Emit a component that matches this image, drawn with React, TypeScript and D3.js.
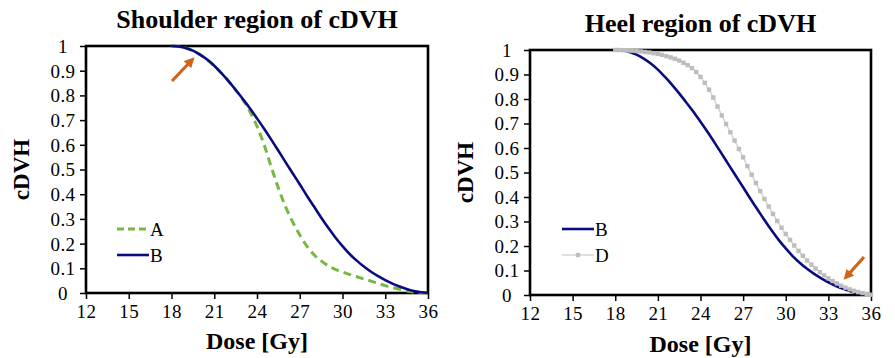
import React, { useRef, useEffect } from "react";
import * as d3 from "d3";

// dose ticks and cDVH ticks
const doseTicks = [12, 15, 18, 21, 24, 27, 30, 33, 36];
const cdvhTicks = [0, 0.1, 0.2, 0.3, 0.4, 0.5, 0.6, 0.7, 0.8, 0.9, 1];

// plan A (green dashed) - [dose Gy, cDVH]
const planA: [number, number][] = [
  [18, 1], [19, 0.992], [20, 0.965], [21, 0.92], [22, 0.858], [22.5, 0.822],
  [23, 0.783], [23.5, 0.735], [24, 0.675], [24.5, 0.6], [25, 0.51], [25.5, 0.425],
  [26, 0.35], [26.5, 0.288], [27, 0.235], [27.5, 0.19], [28, 0.155], [28.5, 0.13],
  [29, 0.11], [29.5, 0.096], [30, 0.085], [31, 0.066], [32, 0.048], [33, 0.03],
  [34, 0.015], [35, 0.004], [36, 0],
];

// plan B (navy solid)
const planB: [number, number][] = [
  [18, 1], [18.5, 0.998], [19, 0.992], [19.5, 0.981], [20, 0.965], [20.5, 0.945],
  [21, 0.92], [21.5, 0.89], [22, 0.858], [22.5, 0.823], [23, 0.786], [23.5, 0.748],
  [24, 0.707], [24.5, 0.665], [25, 0.621], [25.5, 0.576], [26, 0.53], [26.5, 0.485],
  [27, 0.44], [27.5, 0.394], [28, 0.35], [28.5, 0.306], [29, 0.264], [29.5, 0.225],
  [30, 0.19], [30.5, 0.158], [31, 0.131], [31.5, 0.107], [32, 0.086], [32.5, 0.068],
  [33, 0.052], [33.5, 0.038], [34, 0.026], [34.5, 0.016], [35, 0.008], [35.5, 0.003],
  [36, 0],
];

// plan D (gray with square markers)
const planD: [number, number][] = [
  [18.0, 1.0], [18.3, 1.0], [18.6, 0.999], [18.9, 0.998], [19.2, 0.997], [19.5, 0.996],
  [19.8, 0.994], [20.1, 0.992], [20.4, 0.99], [20.7, 0.987], [21.0, 0.984], [21.3, 0.98],
  [21.6, 0.975], [21.9, 0.97], [22.2, 0.964], [22.5, 0.957], [22.8, 0.948], [23.1, 0.938],
  [23.4, 0.926], [23.7, 0.91], [24.0, 0.89], [24.3, 0.866], [24.6, 0.838], [24.9, 0.806],
  [25.2, 0.769], [25.5, 0.733], [25.8, 0.698], [26.1, 0.664], [26.4, 0.63], [26.7, 0.596],
  [27.0, 0.562], [27.3, 0.526], [27.6, 0.491], [27.9, 0.457], [28.2, 0.424], [28.5, 0.392],
  [28.8, 0.361], [29.1, 0.331], [29.4, 0.302], [29.7, 0.275], [30.0, 0.249], [30.3, 0.225],
  [30.6, 0.202], [30.9, 0.18], [31.2, 0.16], [31.5, 0.141], [31.8, 0.124], [32.1, 0.108],
  [32.4, 0.093], [32.7, 0.08], [33.0, 0.068], [33.3, 0.057], [33.6, 0.047], [33.9, 0.038],
  [34.2, 0.03], [34.5, 0.023], [34.8, 0.017], [35.1, 0.012], [35.4, 0.008], [35.7, 0.004],
  [36.0, 0.001],
];

const NAVY = "#0b0b80";
const GREEN = "#77b843";
const GRAY_LINE = "#d4d4d4";
const GRAY_MARK = "#bdbdbd";
const ORANGE = "#cf6418";
const SERIF = "Liberation Serif, Times New Roman, serif";

export default function App() {
  const ref = useRef<SVGSVGElement>(null);

  useEffect(() => {
    const svg = d3.select(ref.current);
    svg.selectAll("*").remove();

    svg
      .append("defs")
      .append("marker")
      .attr("id", "arrowhead")
      .attr("viewBox", "0 0 10 10")
      .attr("refX", 5)
      .attr("refY", 5)
      .attr("markerWidth", 3.2)
      .attr("markerHeight", 3.2)
      .attr("orient", "auto")
      .attr("markerUnits", "strokeWidth")
      .append("path")
      .attr("d", "M0,0 L10,5 L0,10 Z")
      .attr("fill", ORANGE);

    function panel(opts: {
      left: number; right: number; top: number; bottom: number;
      title: string; titleY: number; doseY: number; labelX: number;
      series: { name: string; data: [number, number][]; kind: string }[];
      legendY: number[]; legendX: number;
      arrow: [number, number, number, number];
    }) {
      const x = d3.scaleLinear().domain([12, 36]).range([opts.left, opts.right]);
      const y = d3.scaleLinear().domain([0, 1]).range([opts.bottom, opts.top]);
      const g = svg.append("g").attr("font-family", SERIF);

      // title
      g.append("text")
        .attr("x", (opts.left + opts.right) / 2)
        .attr("y", opts.titleY)
        .attr("text-anchor", "middle")
        .attr("font-weight", "bold")
        .attr("font-size", 26)
        .text(opts.title);

      // axes
      const xAxis = g.append("g")
        .attr("transform", `translate(0,${opts.bottom})`)
        .call(d3.axisBottom(x).tickValues(doseTicks).tickSize(6).tickPadding(6).tickFormat(d3.format("d")));
      const yAxis = g.append("g")
        .attr("transform", `translate(${opts.left},0)`)
        .call(d3.axisLeft(y).tickValues(cdvhTicks).tickSize(6).tickPadding(0).tickFormat((d) => String(+d)));
      [xAxis, yAxis].forEach((a) => {
        a.attr("font-family", SERIF).attr("font-size", 19);
        a.select(".domain").remove();
        a.selectAll(".tick line").attr("stroke", "#000").attr("stroke-width", 1.5);
        a.selectAll(".tick text").attr("fill", "#000").style("letter-spacing", "0.4px");
      });
      xAxis.selectAll(".tick text").attr("dy", "0.71em");
      yAxis.selectAll(".tick text").attr("text-anchor", "middle").attr("x", -23).attr("dy", "0.34em");

      // frame
      g.append("rect")
        .attr("x", opts.left)
        .attr("y", opts.top)
        .attr("width", opts.right - opts.left)
        .attr("height", opts.bottom - opts.top)
        .attr("fill", "none")
        .attr("stroke", "#000")
        .attr("stroke-width", 2.6);

      const line = d3.line<[number, number]>()
        .x((d) => x(d[0]))
        .y((d) => y(d[1]))
        .curve(d3.curveMonotoneX);

      opts.series.forEach((s, i) => {
        const ly = opts.legendY[i];
        const lx0 = opts.legendX;
        const lx1 = opts.legendX + 32;
        if (s.kind === "dash") {
          g.append("path").datum(s.data).attr("d", line).attr("fill", "none")
            .attr("stroke", GREEN).attr("stroke-width", 3).attr("stroke-dasharray", "8,5");
          g.append("line").attr("x1", lx0).attr("x2", lx1).attr("y1", ly).attr("y2", ly)
            .attr("stroke", GREEN).attr("stroke-width", 3).attr("stroke-dasharray", "7,4");
        } else if (s.kind === "solid") {
          g.append("path").datum(s.data).attr("d", line).attr("fill", "none")
            .attr("stroke", NAVY).attr("stroke-width", 2.6);
          g.append("line").attr("x1", lx0).attr("x2", lx1).attr("y1", ly).attr("y2", ly)
            .attr("stroke", NAVY).attr("stroke-width", 2.6);
        } else {
          g.append("path").datum(s.data).attr("d", line).attr("fill", "none")
            .attr("stroke", GRAY_LINE).attr("stroke-width", 1.5);
          g.selectAll(null).data(s.data).enter().append("rect")
            .attr("x", (d) => x(d[0]) - 2.2)
            .attr("y", (d) => y(d[1]) - 2.2)
            .attr("width", 4.4)
            .attr("height", 4.4)
            .attr("fill", GRAY_MARK);
          g.append("line").attr("x1", lx0).attr("x2", lx1).attr("y1", ly).attr("y2", ly)
            .attr("stroke", GRAY_LINE).attr("stroke-width", 1.5);
          g.append("rect").attr("x", (lx0 + lx1) / 2 - 2.2).attr("y", ly - 2.2)
            .attr("width", 4.4).attr("height", 4.4).attr("fill", GRAY_MARK);
        }
        g.append("text")
          .attr("x", lx1 + 1)
          .attr("y", ly)
          .attr("dy", "0.35em")
          .attr("font-size", 19)
          .text(s.name);
      });

      // axis labels
      g.append("text")
        .attr("x", (opts.left + opts.right) / 2)
        .attr("y", opts.doseY)
        .attr("text-anchor", "middle")
        .attr("font-weight", "bold")
        .attr("font-size", 24)
        .text("Dose [Gy]");
      g.append("text")
        .attr("transform", `translate(${opts.labelX},${(opts.top + opts.bottom) / 2}) rotate(-90)`)
        .attr("text-anchor", "middle")
        .attr("font-weight", "bold")
        .attr("font-size", 23)
        .text("cDVH");

      // arrow
      const [x1, y1, x2, y2] = opts.arrow;
      g.append("line")
        .attr("x1", x1).attr("y1", y1).attr("x2", x2).attr("y2", y2)
        .attr("stroke", ORANGE)
        .attr("stroke-width", 3.2)
        .attr("marker-end", "url(#arrowhead)");
    }

    panel({
      left: 86, right: 428, top: 46, bottom: 293,
      title: "Shoulder region of cDVH", titleY: 28, doseY: 349, labelX: 29,
      series: [
        { name: "A", data: planA, kind: "dash" },
        { name: "B", data: planB, kind: "solid" },
      ],
      legendY: [229, 255], legendX: 117,
      arrow: [172, 81, 191, 61],
    });

    panel({
      left: 530, right: 871, top: 50, bottom: 295,
      title: "Heel region of cDVH", titleY: 32, doseY: 352, labelX: 473,
      series: [
        { name: "B", data: planB, kind: "solid" },
        { name: "D", data: planD, kind: "marker" },
      ],
      legendY: [229, 255], legendX: 562,
      arrow: [864, 257, 847, 276],
    });
  }, []);

  return (
    <svg
      ref={ref}
      width={895}
      height={358}
      style={{ position: "absolute", left: 0, top: 0, background: "#fff" }}
    />
  );
}
